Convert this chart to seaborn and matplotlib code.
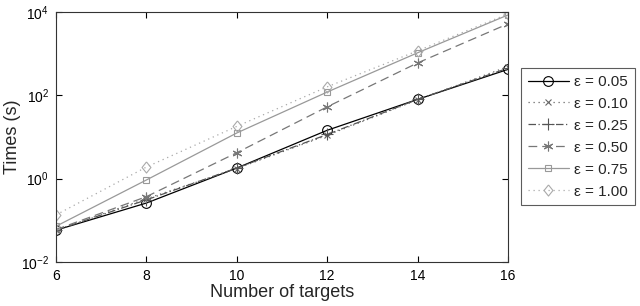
import numpy as np
import pandas as pd
import seaborn as sns
import matplotlib.pyplot as plt
import matplotlib.ticker as mticker

# data
targets = [6, 8, 10, 12, 14, 16]
eps_labels = ['ε = 0.05', 'ε = 0.10', 'ε = 0.25', 'ε = 0.50', 'ε = 0.75', 'ε = 1.00']
t_005 = [0.058, 0.26, 1.8, 14.5, 80, 420]
t_010 = [0.058, 0.33, 1.75, 11.0, 78, 490]
t_025 = [0.058, 0.31, 1.8, 11.5, 80, 450]
t_050 = [0.060, 0.37, 4.2, 53, 600, 5200]
t_075 = [0.072, 0.93, 12.5, 120, 1050, 8500]
t_100 = [0.135, 1.9, 18, 160, 1170, 9000]

series = [t_005, t_010, t_025, t_050, t_075, t_100]
colors = ['black', '#666666', '#555555', '#777777', '#999999', '#aaaaaa']
styles = ['-', (0, (1, 3)), (0, (6, 2, 1, 2)), (0, (7, 4)), '-', (0, (1, 3))]
diamond = [(0, 1), (0.8, 0), (0, -1), (-0.8, 0), (0, 1)]
marks = ['o', 'x', '+', (6, 2, 0), 's', diamond]
msizes = [7, 5, 8, 7, 5, 8]

sns.set_style("ticks")
plt.rcParams['font.family'] = ['Liberation Sans', 'DejaVu Sans']
plt.rcParams['mathtext.fontset'] = 'custom'
plt.rcParams['mathtext.rm'] = 'Liberation Sans'

fig = plt.figure(figsize=(6.4, 3.06), dpi=100)
ax = fig.add_axes([0.0875, 0.1438, 0.7063, 0.8170])

for vals, lab, c, ls, m, ms in zip(series, eps_labels, colors, styles, marks, msizes):
    df = pd.DataFrame({'targets': targets, 'time': vals})
    sns.lineplot(data=df, x='targets', y='time', ax=ax, color=c, linestyle=ls,
                 marker=m, markersize=ms, mfc='none', mec=c, mew=0.8, lw=0.9,
                 label=lab)

ax.set_yscale('log')
ax.set_xlim(6, 16)
ax.set_ylim(1e-2, 1e4)
ax.set_xticks(targets)
ax.set_yticks([1e-2, 1e0, 1e2, 1e4])
ax.yaxis.set_minor_locator(mticker.NullLocator())
ax.yaxis.set_major_formatter(mticker.FuncFormatter(
    lambda y, pos: r'$\mathregular{10^{%d}}$' % int(round(np.log10(y)))))
ax.tick_params(direction='in', top=True, right=True, length=4, width=0.8,
               labelsize=10, colors='black', pad=5)
for s in ax.spines.values():
    s.set_color('#333333')
    s.set_linewidth(0.8)

ax.set_xlabel('Number of targets', fontsize=13, labelpad=1)
ax.set_ylabel('Times (s)', fontsize=13, labelpad=0)

leg = ax.legend(loc='upper left', bbox_to_anchor=(1.028, 0.776), fontsize=11,
                frameon=True, fancybox=False, edgecolor='#333333',
                handlelength=2.7, labelspacing=0.52, borderpad=0.45,
                handletextpad=0.35, borderaxespad=0)
leg.get_frame().set_linewidth(0.8)

fig.savefig('out.png', dpi=100)
